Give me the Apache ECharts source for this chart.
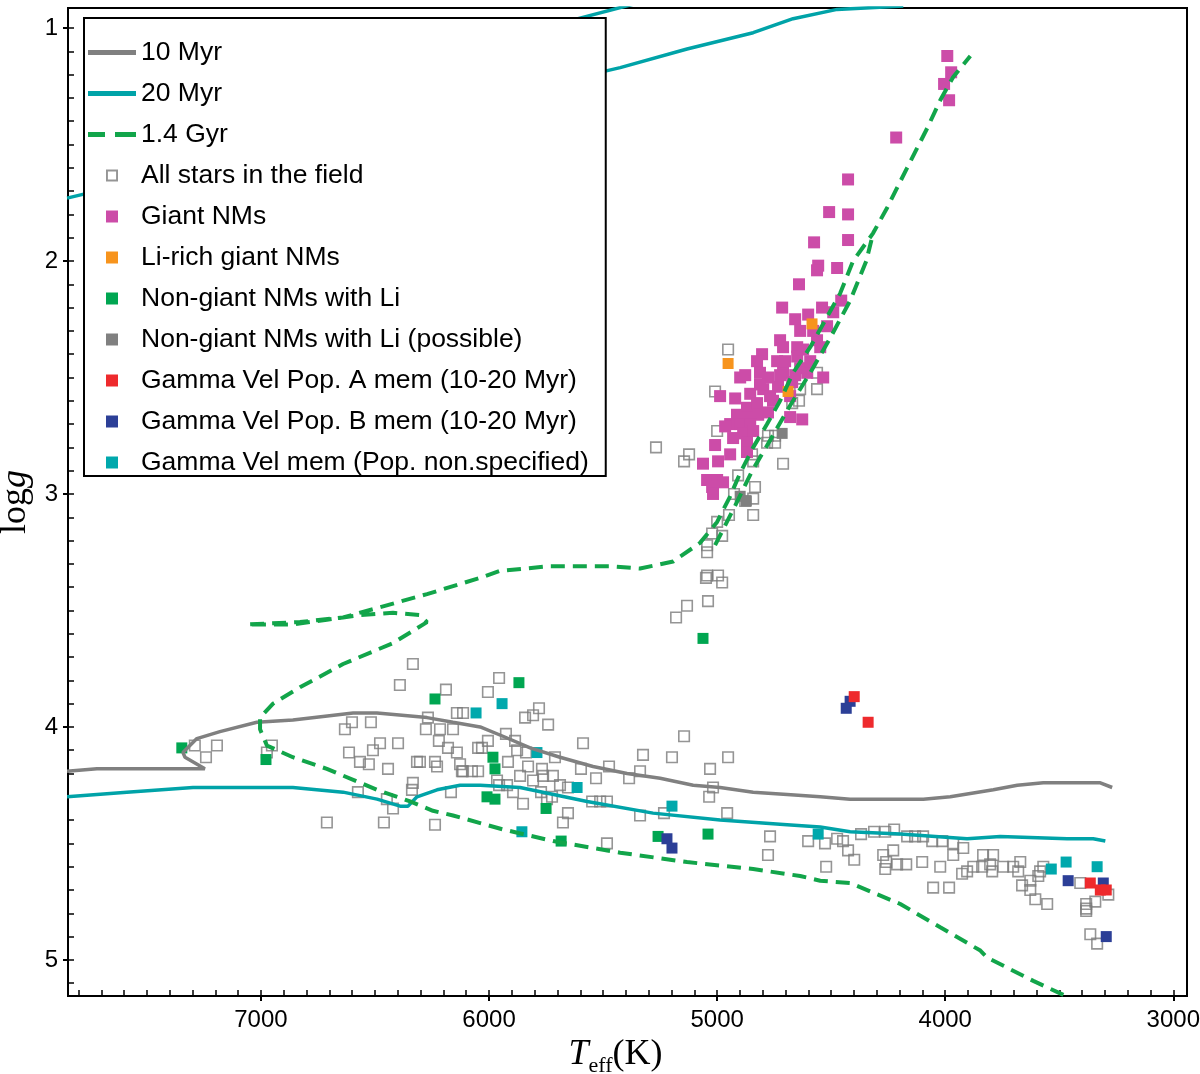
<!DOCTYPE html>
<html><head><meta charset="utf-8">
<script src="https://cdn.jsdelivr.net/npm/echarts@6/dist/echarts.min.js"></script>
<style>html,body{margin:0;padding:0;background:#fff}#c{width:1200px;height:1074px}</style>
</head><body><div id="c"></div>
<script>
// ---------- tick values ----------
const xLabelValues = [3000, 4000, 5000, 6000, 7000];
const xMinorValues = [3000,3100,3200,3300,3400,3500,3600,3700,3800,3900,4000,4100,4200,4300,4400,4500,4600,4700,4800,4900,5000,5100,5200,5300,5400,5500,5600,5700,5800,5900,6000,6100,6200,6300,6400,6500,6600,6700,6800,6900,7000,7100,7200,7300,7400,7500,7600,7700,7800];
const yLabelValues = [1, 2, 3, 4, 5];
const yMinorValues = [1.0,1.1,1.2,1.3,1.4,1.5,1.6,1.7,1.8,1.9,2.0,2.1,2.2,2.3,2.4,2.5,2.6,2.7,2.8,2.9,3.0,3.1,3.2,3.3,3.4,3.5,3.6,3.7,3.8,3.9,4.0,4.1,4.2,4.3,4.4,4.5,4.6,4.7,4.8,4.9,5.0,5.1];

// ---------- isochrones [Teff, logg] ----------
const iso10Myr = [[7850,4.19],[7719,4.18],[7246,4.18],[7333,4.13],[7342,4.11],[7281,4.05],[7180,4.02],[7018,3.98],[6860,3.97],[6596,3.94],[6491,3.94],[6272,3.96],[6158,3.98],[6039,4.00],[5939,4.04],[5820,4.09],[5689,4.13],[5544,4.17],[5395,4.20],[5250,4.22],[5105,4.25],[4987,4.26],[4842,4.28],[4693,4.29],[4548,4.30],[4417,4.31],[4096,4.31],[3978,4.30],[3789,4.27],[3684,4.25],[3570,4.24],[3320,4.24],[3268,4.26]];
const iso20MyrMS = [[7850,4.30],[7588,4.28],[7298,4.26],[6860,4.26],[6640,4.28],[6491,4.31],[6390,4.34],[6355,4.34],[6316,4.30],[6228,4.27],[6127,4.25],[6039,4.25],[5864,4.26],[5570,4.32],[5281,4.37],[4987,4.40],[4693,4.42],[4548,4.43],[4417,4.45],[4197,4.46],[3904,4.48],[3759,4.47],[3465,4.48],[3351,4.48],[3298,4.49]];
const iso20MyrGiant = [[7850,1.73],[6654,1.45],[5425,1.17],[5132,1.09],[4842,1.02],[4667,0.96],[4474,0.92],[4184,0.905]];
const iso20MyrTop = [[5689,0.98],[5338,0.89]];
const iso14Gyr = [[3482,5.15],[3614,5.09],[3816,4.99],[3846,4.96],[4022,4.86],[4197,4.76],[4417,4.67],[4548,4.66],[4636,4.64],[4842,4.61],[5132,4.58],[5425,4.54],[5719,4.49],[5939,4.44],[6158,4.38],[6246,4.36],[6346,4.32],[6491,4.27],[6711,4.18],[6860,4.13],[6974,4.08],[7004,4.01],[7004,3.96],[6947,3.90],[6829,3.83],[6640,3.73],[6421,3.64],[6272,3.55],[6303,3.52],[6421,3.51],[6566,3.52],[6711,3.54],[6860,3.56],[7061,3.56],[6829,3.55],[6640,3.53],[6272,3.43],[6039,3.36],[5952,3.33],[5732,3.31],[5469,3.31],[5338,3.32],[5193,3.29],[5075,3.21],[5000,3.12],[4943,3.01],[4899,2.91],[4842,2.80],[4781,2.70],[4724,2.60],[4667,2.48],[4592,2.37],[4518,2.24],[4461,2.14],[4404,2.00],[4316,1.88],[4254,1.77],[4167,1.60],[4079,1.43],[4022,1.31],[3965,1.21],[3890,1.12]];
const iso14GyrAGB = [[5009,3.22],[4921,3.05],[4846,2.90],[4768,2.77],[4680,2.62],[4592,2.48],[4504,2.33],[4417,2.17],[4346,2.00],[4316,1.88]];

// ---------- stars [Teff, logg] ----------
const allStars = [[7290,4.08],[7193,4.08],[7241,4.13],[6952,4.08],[6974,4.11],[6711,4.41],[6461,4.41],[6334,3.73],[6391,3.82],[6189,3.84],[6632,4.01],[6601,3.98],[6518,3.98],[6478,4.07],[6509,4.10],[6614,4.11],[6566,4.15],[6527,4.16],[6443,4.18],[6399,4.07],[6316,4.15],[6268,3.96],[6277,4.01],[6215,4.01],[6158,4.01],[6220,4.06],[6180,4.09],[6141,4.11],[6237,4.15],[6228,4.17],[6127,4.16],[6114,4.19],[6075,4.19],[6048,4.19],[6141,3.94],[6114,3.94],[6048,4.09],[6575,4.28],[6448,4.31],[6421,4.35],[6338,4.27],[6334,4.24],[6237,4.42],[6167,4.28],
[5956,3.79],[6005,3.85],[5842,3.96],[5807,3.95],[5781,3.92],[5741,3.99],[6303,4.15],[6119,4.19],[6005,4.06],[6031,4.09],[5926,4.03],[5886,4.06],[5877,4.10],[5838,4.11],[5917,4.15],[5829,4.17],[5768,4.18],[5864,4.21],[5807,4.23],[5763,4.21],[5720,4.21],[5711,4.13],[5689,4.25],[5654,4.26],[5588,4.07],[5597,4.18],[5531,4.22],[5474,4.17],[5386,4.22],[5338,4.19],[5325,4.12],[5198,4.13],[5145,4.04],[5965,4.23],[5956,4.25],[5921,4.25],[5895,4.28],[5772,4.28],[5724,4.30],[5746,4.31],[5851,4.33],[5654,4.37],[5676,4.41],[5548,4.32],[5513,4.32],[5483,4.32],[5338,4.38],[5233,4.37],[5483,4.50],[5031,4.18],[4952,4.13],[5018,4.26],[5035,4.30],[4956,4.37],[4768,4.47],[4777,4.55],[4601,4.49],
[4527,4.50],[4522,4.60],[4474,4.48],[4448,4.49],[4426,4.53],[4399,4.57],[4369,4.46],[4312,4.45],[4263,4.45],[4224,4.44],[4272,4.55],[4228,4.53],[4259,4.58],[4263,4.61],[4211,4.59],[4171,4.59],[4167,4.47],[4132,4.47],[4097,4.47],[4101,4.58],[4057,4.49],[4013,4.49],[3965,4.50],[3921,4.52],[3965,4.55],[4022,4.60],[4053,4.69],[3983,4.69],[3834,4.55],[3790,4.55],[3803,4.59],[3838,4.60],[3877,4.60],[3904,4.62],[3926,4.63],[3794,4.62],[3746,4.60],[3702,4.60],[3671,4.58],[3680,4.62],[3627,4.66],[3663,4.68],[3627,4.70],[3605,4.74],[3553,4.76],[3592,4.64],[3584,4.62],[3570,4.60],[3408,4.67],[3382,4.76],[3382,4.78],[3382,4.79],[3342,4.75],[3285,4.72],[3364,4.89],[3334,4.93],
[4952,2.38],[5009,2.56],[5268,2.80],[5123,2.83],[5145,2.86],[5000,2.73],[4711,2.87],[4562,2.48],[4562,2.55],[4636,2.55],[4641,2.60],[4671,2.61],[4777,2.75],[4746,2.75],[4746,2.78],[4781,2.78],[4847,2.83],[4842,2.86],[4908,2.92],[4926,3.00],[4834,2.97],[4842,3.02],[4842,3.09],[4948,3.09],[5000,3.12],[4978,3.18],[5022,3.17],[5044,3.22],[5044,3.25],[5044,3.35],[4996,3.35],[5049,3.36],[4978,3.38],[5040,3.46],[5132,3.48],[5180,3.53],[4877,3.03]];
const giantNMs = [[3991,1.12],[3974,1.19],[4005,1.24],[3983,1.31],[4215,1.47],[4426,1.65],[4509,1.79],[4426,1.80],[4575,1.92],[4426,1.91],[4557,2.02],[4562,2.04],[4474,2.03],[4641,2.10],[4456,2.17],[4715,2.20],[4540,2.20],[4491,2.22],[4658,2.25],[4601,2.23],[4518,2.28],[4724,2.34],[4711,2.37],[4649,2.37],[4562,2.34],[4548,2.37],[4803,2.40],[4825,2.43],[4737,2.43],[4649,2.41],[4623,2.38],[4899,2.50],[4877,2.49],[4812,2.48],[4777,2.50],[4711,2.48],[4636,2.46],[4605,2.48],[4535,2.50],[4987,2.58],[4921,2.59],[4855,2.57],[4798,2.55],[4733,2.54],[4671,2.52],[4869,2.63],[4825,2.61],[4755,2.60],[4913,2.66],[4869,2.67],[4820,2.66],[4777,2.65],[4943,2.70],[4965,2.71],[4899,2.70],[4855,2.70],[4680,2.67],[4627,2.68],[4886,2.74],[4842,2.73],[4930,2.76],[4869,2.78],[5009,2.79],[4943,2.83],[5062,2.87],[4996,2.86],[4869,2.82],[5044,2.94],[5000,2.94],[4974,2.95],[5022,2.97],[5018,3.00],[4702,2.43],[4768,2.58],[4680,2.58],[4812,2.53],[4724,2.49],[4658,2.49],[4592,2.43],[4579,2.30],[4636,2.30]];
const liRichGiants = [[4952,2.44],[4584,2.27],[4689,2.56]];
const nonGiantLi = [[7347,4.09],[6978,4.14],[6237,3.88],[5869,3.81],[5983,4.13],[5974,4.18],[6009,4.30],[5974,4.31],[5750,4.35],[5684,4.49],[5259,4.47],[5040,4.46],[5062,3.62]];
const nonGiantLiPossible = [[4715,2.74],[4899,3.01],[4872,3.03]];
const popA = [[4399,3.87],[4338,3.98],[3364,4.67],[3320,4.70],[3294,4.70]];
const popB = [[5220,4.48],[5198,4.52],[4417,3.89],[4434,3.92],[3461,4.66],[3307,4.67],[3294,4.90]];
const gvUnspec = [[6057,3.94],[5943,3.90],[5790,4.11],[5614,4.26],[5856,4.45],[5198,4.34],[4557,4.46],[3535,4.61],[3470,4.58],[3334,4.60]];

const C = {
  gray10: '#808080', teal20: '#00a3a8', green14: '#12a54a',
  hollow: '#7a7a7a', pink: '#cc4ca8', orange: '#f7941d', green: '#00a651',
  grayF: '#808080', red: '#ee2a2d', blue: '#2c3f97', teal: '#00a8ac'
};
const SQ = 'path://M0,0L10,0L10,10L0,10Z';
const SQH = 'path://M0,0L10,0L10,10L0,10Z M1.6,1.6L1.6,8.4L8.4,8.4L8.4,1.6Z';
const LINE_ICON = 'path://M0,0L48,0L48,5L0,5Z';
const DASH_ICON = 'path://M0,0L17,0L17,5L0,5Z M27,0L48,0L48,5L27,5Z';

function lineSeries(name, data, color, width, type) {
  return { name, type: 'line', data, showSymbol: false, symbol: 'none', z: 3, animation: false,
    lineStyle: { color, width, type: type || 'solid', cap: 'butt' }, itemStyle: { color } };
}
function scat(name, data, color, size, z) {
  return { name, type: 'scatter', data, symbol: 'rect', symbolSize: size || 11, z: z || 2, animation: false,
    itemStyle: { color, opacity: 1 } };
}

const chart = echarts.init(document.getElementById('c'), null, { renderer: 'canvas', width: 1200, height: 1074 });
const axisFont = { fontFamily: 'Liberation Sans, Arial, sans-serif', fontSize: 24, color: '#000' };
const fmt = function (v) { return String(Math.round(v * 100) / 100); };
const commonX = { type: 'value', inverse: true, min: 2940, max: 7846, splitLine: { show: false } };
const commonY = { type: 'value', inverse: true, min: 0.914, max: 5.155, splitLine: { show: false } };

chart.setOption({
  animation: false,
  backgroundColor: '#fff',
  grid: { left: 68, right: 13, top: 8, bottom: 78, containLabel: false, outerBoundsMode: 'none',
    show: true, borderColor: '#000', borderWidth: 2, backgroundColor: 'transparent' },
  xAxis: [
    Object.assign({}, commonX, {
      position: 'bottom',
      axisLine: { show: true, onZero: false, lineStyle: { color: '#000', width: 2 } },
      axisTick: { show: true, inside: true, length: 6, customValues: xMinorValues, lineStyle: { color: '#000', width: 1.5 } },
      axisLabel: Object.assign({ show: true, margin: 12, customValues: xLabelValues, formatter: fmt, hideOverlap: false }, axisFont),
      name: '{i|T}{s|eff}{r|(K)}', nameLocation: 'middle', nameGap: 19,
      nameTextStyle: { color: '#000', rich: {
        i: { fontFamily: 'Liberation Serif, serif', fontStyle: 'italic', fontSize: 36, color: '#000' },
        s: { fontFamily: 'Liberation Serif, serif', fontSize: 22, color: '#000', padding: [22, 0, 0, 0] },
        r: { fontFamily: 'Liberation Serif, serif', fontSize: 36, color: '#000', padding: [0, 24, 0, 0] } } }
    }),
    Object.assign({}, commonX, {
      position: 'bottom',
      axisLine: { show: false, onZero: false },
      axisTick: { show: true, inside: false, length: 5, customValues: xLabelValues, lineStyle: { color: '#000', width: 2 } },
      axisLabel: { show: false }
    })
  ],
  yAxis: [
    Object.assign({}, commonY, {
      position: 'left',
      axisLine: { show: true, onZero: false, lineStyle: { color: '#000', width: 2 } },
      axisTick: { show: true, inside: true, length: 6, customValues: yMinorValues, lineStyle: { color: '#000', width: 1.5 } },
      axisLabel: Object.assign({ show: true, margin: 10, customValues: yLabelValues, formatter: fmt }, axisFont),
      name: 'log{g|g}', nameLocation: 'middle', nameGap: 26, nameRotate: 90,
      nameTextStyle: { fontFamily: 'Liberation Serif, serif', fontSize: 36, color: '#000',
        rich: { g: { fontFamily: 'Liberation Serif, serif', fontStyle: 'italic', fontSize: 36, color: '#000' } } }
    }),
    Object.assign({}, commonY, {
      position: 'left',
      axisLine: { show: false, onZero: false },
      axisTick: { show: true, inside: false, length: 5, customValues: yLabelValues, lineStyle: { color: '#000', width: 2 } },
      axisLabel: { show: false }
    })
  ],
  legend: {
    orient: 'vertical', left: 84, top: 18, z: 10,
    backgroundColor: '#fff', borderColor: '#000', borderWidth: 2,
    padding: [21, 17, 0, 4], itemGap: 14, itemWidth: 48, itemHeight: 12,
    symbolKeepAspect: true, selectedMode: false,
    textStyle: { fontFamily: 'Liberation Sans, Arial, sans-serif', fontSize: 26.5, lineHeight: 26, color: '#000' },
    data: [
      { name: '10 Myr', icon: LINE_ICON, itemStyle: { color: C.gray10, borderWidth: 0 } },
      { name: '20 Myr', icon: LINE_ICON, itemStyle: { color: C.teal20, borderWidth: 0 } },
      { name: '1.4 Gyr', icon: DASH_ICON, itemStyle: { color: C.green14, borderWidth: 0 } },
      { name: 'All stars in the field', icon: SQH, itemStyle: { color: C.hollow, borderWidth: 0 } },
      { name: 'Giant NMs', icon: SQ },
      { name: 'Li-rich giant NMs', icon: SQ },
      { name: 'Non-giant NMs with Li', icon: SQ },
      { name: 'Non-giant NMs with Li (possible)', icon: SQ },
      { name: 'Gamma Vel Pop. A mem (10-20 Myr)', icon: SQ },
      { name: 'Gamma Vel Pop. B mem (10-20 Myr)', icon: SQ },
      { name: 'Gamma Vel mem (Pop. non.specified)', icon: SQ }
    ]
  },
  series: [
    { name: 'All stars in the field', type: 'scatter', data: allStars, symbol: 'rect', symbolSize: 10.5, z: 2, animation: false,
      itemStyle: { color: 'rgba(255,255,255,0)', borderColor: C.hollow, borderWidth: 1.6 } },
    scat('Giant NMs', giantNMs, C.pink, 12),
    scat('Li-rich giant NMs', liRichGiants, C.orange, 11),
    scat('Non-giant NMs with Li (possible)', nonGiantLiPossible, C.grayF, 11),
    scat('Non-giant NMs with Li', nonGiantLi, C.green, 11),
    scat('Gamma Vel mem (Pop. non.specified)', gvUnspec, C.teal, 11),
    scat('Gamma Vel Pop. B mem (10-20 Myr)', popB, C.blue, 11),
    scat('Gamma Vel Pop. A mem (10-20 Myr)', popA, C.red, 11),
    lineSeries('10 Myr', iso10Myr, C.gray10, 3.5),
    lineSeries('20 Myr', iso20MyrMS, C.teal20, 3.5),
    lineSeries('20 Myr', iso20MyrGiant, C.teal20, 3.5),
    lineSeries('20 Myr', iso20MyrTop, C.teal20, 3.5),
    lineSeries('1.4 Gyr', iso14Gyr, C.green14, 4, [14, 8]),
    lineSeries('1.4 Gyr', iso14GyrAGB, C.green14, 4, [14, 8])
  ]
});
</script>
</body></html>
